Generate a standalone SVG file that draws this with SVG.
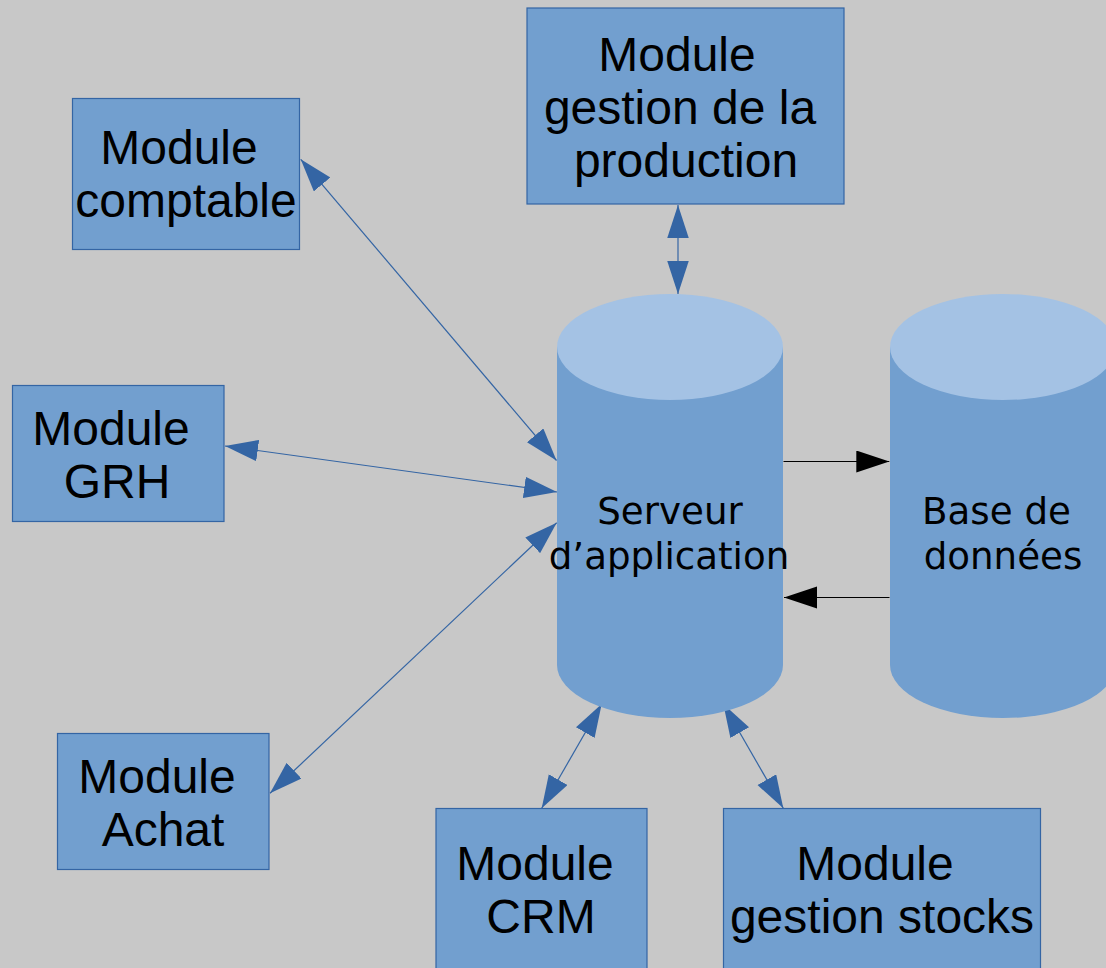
<svg xmlns="http://www.w3.org/2000/svg" width="1106" height="968" viewBox="0 0 1106 968">
<style>
.box{fill:#729fcf;stroke:#3465a4;stroke-width:1.2}
.body{fill:#729fcf}
.top{fill:#a4c2e4}
.t{font-family:"Liberation Sans",Arial,sans-serif;font-size:48px;fill:#000;text-anchor:middle}
.d{font-family:"DejaVu Sans",sans-serif;font-size:37.2px;fill:#000;text-anchor:middle}
.c{stroke:#3465a4;stroke-width:1.2;fill:none;marker-start:url(#ab);marker-end:url(#ab)}
.k{stroke:#000;stroke-width:1.2;fill:none;marker-end:url(#ak)}
</style>
<defs>
<marker id="ab" markerUnits="userSpaceOnUse" markerWidth="34" markerHeight="22" refX="33" refY="10.75" orient="auto-start-reverse" viewBox="0 0 34 22"><path d="M0,0 L33,10.75 L0,21.5 z" fill="#3465a4"/></marker>
<marker id="ak" markerUnits="userSpaceOnUse" markerWidth="34" markerHeight="23" refX="33" refY="11" orient="auto" viewBox="0 0 34 23"><path d="M0,0 L33,11 L0,22 z" fill="#000"/></marker>
</defs>
<rect width="1106" height="968" fill="#c8c8c8"/>
<g id="connectors">
<line class="c" x1="300.7" y1="159.3" x2="556.5" y2="460.5"/>
<line class="c" x1="678" y1="205" x2="678" y2="294"/>
<line class="c" x1="225" y1="446" x2="557" y2="492"/>
<line class="c" x1="270" y1="793.3" x2="556.7" y2="522.7"/>
<line class="c" x1="601.7" y1="704" x2="541.7" y2="808.3"/>
<line class="c" x1="723.3" y1="704" x2="783.3" y2="808.3"/>
<line class="k" x1="783.5" y1="461.5" x2="889.3" y2="461.5"/>
<line class="k" x1="889.5" y1="597.5" x2="784" y2="597.5"/>
</g>
<g id="serveur">
<path class="body" d="M557,347 L557,665 A113,53 0 0 0 783,665 L783,347 z"/>
<ellipse class="top" cx="670" cy="347" rx="113" ry="53"/>
<text class="d" x="670" y="524">Serveur</text>
<text class="d" x="669" y="569">d’application</text>
</g>
<g id="base">
<path class="body" d="M890,347 L890,665 A113,53 0 0 0 1116,665 L1116,347 z"/>
<ellipse class="top" cx="1003" cy="347" rx="113" ry="53"/>
<text class="d" x="996.5" y="524">Base de</text>
<text class="d" x="1003" y="569">données</text>
</g>
<g id="comptable">
<rect class="box" x="72.5" y="98.5" width="227" height="151"/>
<text class="t" x="179" y="164">Module</text>
<text class="t" x="186" y="217">comptable</text>
</g>
<g id="production">
<rect class="box" x="527" y="8" width="317" height="196"/>
<text class="t" x="677" y="71">Module</text>
<text class="t" x="680" y="124">gestion de la</text>
<text class="t" x="686" y="177">production</text>
</g>
<g id="grh">
<rect class="box" x="12.5" y="385.5" width="211.5" height="136"/>
<text class="t" x="111" y="445">Module</text>
<text class="t" x="117" y="498">GRH</text>
</g>
<g id="achat">
<rect class="box" x="57.5" y="733.5" width="211.5" height="136"/>
<text class="t" x="157" y="793">Module</text>
<text class="t" x="163" y="846">Achat</text>
</g>
<g id="crm">
<rect class="box" x="436" y="808.5" width="211" height="170"/>
<text class="t" x="535" y="880">Module</text>
<text class="t" x="541" y="933">CRM</text>
</g>
<g id="stocks">
<rect class="box" x="723.5" y="808.5" width="317" height="170"/>
<text class="t" x="875" y="880">Module</text>
<text class="t" x="882" y="933">gestion stocks</text>
</g>
</svg>
